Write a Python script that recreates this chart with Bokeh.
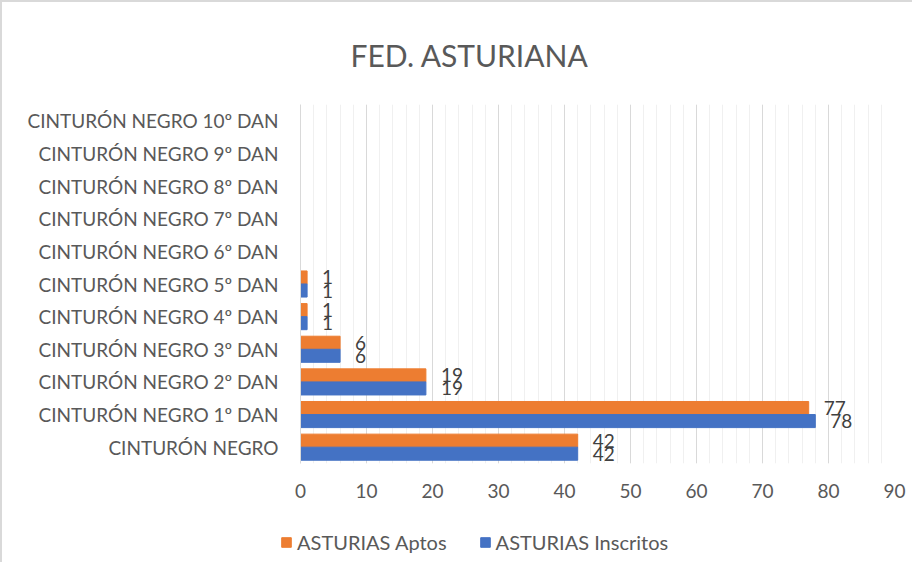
import numpy as np
from bokeh.plotting import figure
from bokeh.layouts import column, row
from bokeh.models import (FactorRange, Range1d, ColumnDataSource, Legend, LegendItem,
                          SingleIntervalTicker)
from bokeh.transform import dodge
from bokeh.core.properties import value
from bokeh.embed import file_html
from bokeh.resources import INLINE

# ---- data ----
categories = ["CINTURÓN NEGRO", "CINTURÓN NEGRO 1º DAN", "CINTURÓN NEGRO 2º DAN",
              "CINTURÓN NEGRO 3º DAN", "CINTURÓN NEGRO 4º DAN", "CINTURÓN NEGRO 5º DAN",
              "CINTURÓN NEGRO 6º DAN", "CINTURÓN NEGRO 7º DAN", "CINTURÓN NEGRO 8º DAN",
              "CINTURÓN NEGRO 9º DAN", "CINTURÓN NEGRO 10º DAN"]
aptos = [42, 77, 19, 6, 1, 1, None, None, None, None, None]
inscritos = [42, 78, 19, 6, 1, 1, None, None, None, None, None]
series_names = ["ASTURIAS Aptos", "ASTURIAS Inscritos"]
title_text = "FED. ASTURIANA"

FONT = "Lato"
ORANGE = "#ED7D31"
BLUE = "#4472C4"
TXT = "#595959"

def src(vals):
    cats = [c for c, v in zip(categories, vals) if v is not None]
    vs = [v for v in vals if v is not None]
    return ColumnDataSource(dict(cat=cats, val=vs, lab=[str(v) for v in vs]))

src_a = src(aptos)
src_i = src(inscritos)

W = 910
p = figure(width=W, height=520, y_range=FactorRange(factors=categories), x_range=Range1d(0, 90),
           output_backend="svg", toolbar_location=None,
           min_border_left=298, min_border_right=18, min_border_top=99, min_border_bottom=59)
p.outline_line_color = None
p.background_fill_color = "white"
p.border_fill_color = "white"

p.title.text = title_text
p.title.align = "left"
p.title.text_font = FONT
p.title.text_font_size = "30px"
p.title.text_font_style = "normal"
p.title.text_color = TXT
p.title.offset = 50
p.title.standoff = 64

bh = 0.40
r_a = p.hbar(y=dodge("cat", 0.2, range=p.y_range), right="val", left=0, height=bh,
             color=ORANGE, source=src_a)
r_i = p.hbar(y=dodge("cat", -0.2, range=p.y_range), right="val", left=0, height=bh,
             color=BLUE, source=src_i)

for s, off in ((src_a, 0.2), (src_i, -0.2)):
    p.text(x="val", y=dodge("cat", off, range=p.y_range), text="lab", source=s,
           x_offset=15, text_align="left", text_baseline="middle",
           text_font=value(FONT), text_font_size="19px", text_color="#404040")

# axes
p.xaxis.ticker = SingleIntervalTicker(interval=10, num_minor_ticks=5)
p.xaxis.axis_line_color = None
p.xaxis.major_tick_line_color = None
p.xaxis.minor_tick_line_color = None
p.xaxis.major_label_standoff = 14
p.xaxis.major_label_text_font = FONT
p.xaxis.major_label_text_font_size = "19px"
p.xaxis.major_label_text_color = TXT

p.yaxis.axis_line_color = "#d9d9d9"
p.yaxis.major_tick_line_color = None
p.yaxis.minor_tick_line_color = None
p.yaxis.major_label_standoff = 16
p.yaxis.major_label_text_font = FONT
p.yaxis.major_label_text_font_size = "19px"
p.yaxis.major_label_text_color = TXT

p.xgrid.grid_line_color = "#d9d9d9"
p.xgrid.minor_grid_line_color = "#f0f0f0"
p.ygrid.grid_line_color = None

# legend strip below the chart
p2 = figure(width=W, height=40, x_range=Range1d(0, 1), y_range=Range1d(0, 1),
            output_backend="svg", toolbar_location=None,
            min_border_left=0, min_border_right=0, min_border_top=0, min_border_bottom=0)
p2.axis.visible = False
p2.grid.grid_line_color = None
p2.outline_line_color = None
dummy = ColumnDataSource(dict(y=np.array([np.nan]), right=np.array([np.nan])))
l_a = p2.hbar(y="y", right="right", height=0.1, color=ORANGE, source=dummy)
l_i = p2.hbar(y="y", right="right", height=0.1, color=BLUE, source=dummy)

legend = Legend(items=[LegendItem(label=series_names[0], renderers=[l_a], index=0),
                       LegendItem(label=series_names[1], renderers=[l_i], index=0)],
                orientation="horizontal", location=(278, 8),
                label_text_font=FONT, label_text_font_size="20px", label_text_color=TXT,
                glyph_width=12, glyph_height=12, spacing=32, border_line_color=None,
                background_fill_alpha=0, label_standoff=5, margin=0, padding=0)
p2.add_layout(legend, "center")

layout = column(p, row(p2), styles={"border-top": "2px solid #d9d9d9",
                                    "border-left": "2px solid #d9d9d9"})

open("out.html", "w").write(file_html(layout, INLINE))
